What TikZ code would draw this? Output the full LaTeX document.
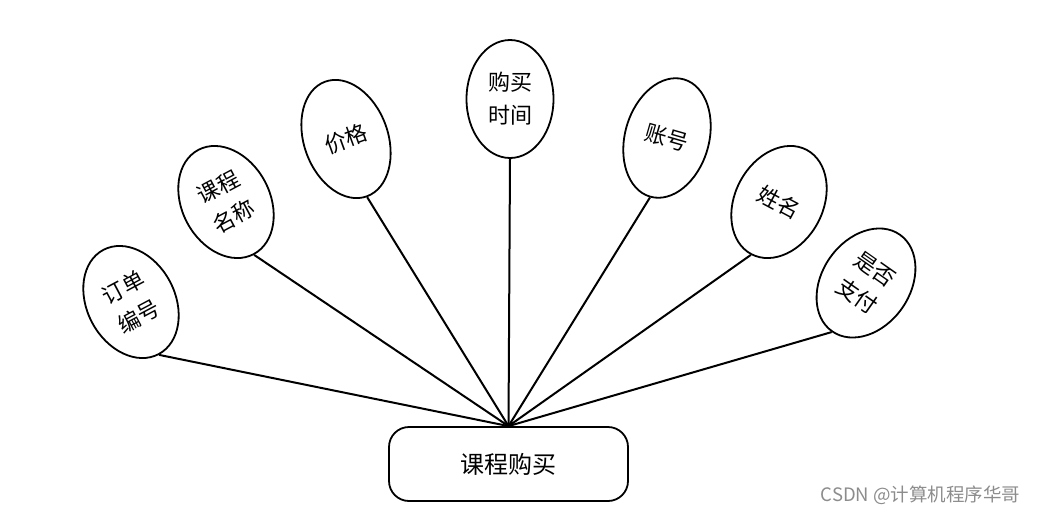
\documentclass[tikz,border=0pt]{standalone}
\usepackage{fontspec}
\setmainfont{Noto Sans CJK SC}
\usetikzlibrary{shapes.geometric}

\begin{document}
\begin{tikzpicture}[
    x=1pt,y=-1pt,
    attr/.style={ellipse,draw,line width=1.8pt,inner sep=0pt,minimum width=88pt,minimum height=118pt,align=center,font=\fontsize{22}{33}\selectfont},
    entity/.style={rectangle,draw,line width=1.8pt,rounded corners=20pt,minimum width=239pt,minimum height=74pt,font=\fontsize{24}{28}\selectfont},
    link/.style={line width=2pt}
]
\useasboundingbox (0,0) rectangle (1039,514);
\node[entity] (buy) at (508.5,464) {课程购买};
\node[attr,rotate=28] (orderno) at (131,302) {订单\\编号};
\node[attr,rotate=28] (course) at (226,202) {课程\\名称};
\node[attr,rotate=20,minimum width=84pt,minimum height=122pt] (price) at (346,139) {价格};
\node[attr,minimum width=87pt] (buytime) at (510,99) {购买\\时间};
\node[attr,rotate=-16,minimum width=84pt,minimum height=122pt] (account) at (667,138) {账号};
\node[attr,rotate=-28] (name) at (779,202) {姓名};
\node[attr,rotate=-35] (paid) at (866,283) {是否\\支付};
\draw[link] (orderno.south) -- (buy.north);
\draw[link] (course.south) -- (buy.north);
\draw[link] (price.south) -- (buy.north);
\draw[link] (buytime.south) -- (buy.north);
\draw[link] (account.south) -- (buy.north);
\draw[link] (name.south) -- (buy.north);
\draw[link] (paid.south) -- (buy.north);
\node[text=black!45,font=\fontsize{18.5}{22}\selectfont,anchor=east] (mark) at (1024,495) {CSDN @计算机程序华哥};
\end{tikzpicture}
\end{document}
